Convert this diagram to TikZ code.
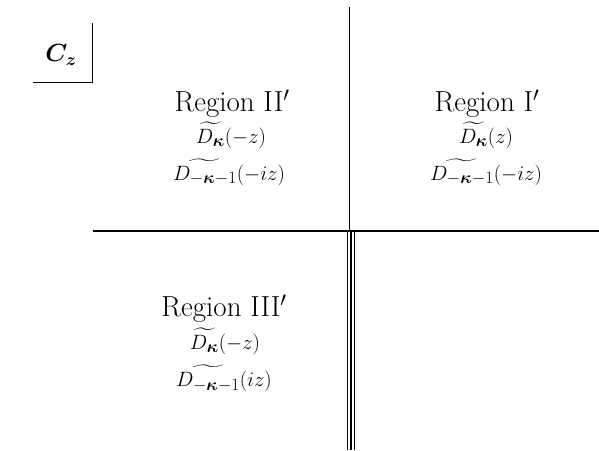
\documentclass[tikz,border=0pt]{standalone}
\usepackage{amsmath}
\DeclareMathSizes{20}{20}{16}{12}
\begin{document}
\begin{tikzpicture}[x=1pt,y=-1pt,
  axis/.style={line width=1.4pt},
  cut/.style={line width=1.2pt},
  boxline/.style={line width=0.9pt},
  regionlabel/.style={font=\fontsize{29}{34}\selectfont, inner sep=0pt, anchor=base},
  fn/.style={font=\fontsize{20}{24}\selectfont, inner sep=0pt, anchor=base}]
\useasboundingbox (0,0) rectangle (599,450);
% axes
\coordinate (top) at (349.5,7);
\coordinate (origin) at (349.5,231);
\coordinate (left) at (93,231);
\coordinate (right) at (599,231);
\draw[axis] (top) -- (origin);
\draw[axis] (left) -- (right);
% triple cut
\coordinate (c1a) at (347.3,231); \coordinate (c1b) at (347.3,450);
\coordinate (c2a) at (351,231);   \coordinate (c2b) at (351,450);
\coordinate (c3a) at (354.7,231); \coordinate (c3b) at (354.7,450);
\draw[cut] (c1a) -- (c1b);
\draw[cut] (c2a) -- (c2b);
\draw[cut] (c3a) -- (c3b);
% C_z box
\coordinate (bxtop) at (92,23);
\coordinate (bxcorner) at (92,82);
\coordinate (bxleft) at (33,82);
\draw[boxline] (bxtop) -- (bxcorner) -- (bxleft);
\node[font=\fontsize{26}{30}\selectfont, inner sep=0pt] (cz) at (61,55) {$\boldsymbol{C_z}$};
% Region II'
\node[regionlabel] (r2) at (232,111) {Region II$'$};
\node[fn] (r2a) at (231,143) {$\widetilde{D_{\boldsymbol\kappa}}(-z)$};
\node[fn] (r2b) at (229,180) {$\widetilde{D_{-\boldsymbol\kappa-1}}(-iz)$};
% Region I'
\node[regionlabel] (r1) at (487,111) {Region I$'$};
\node[fn] (r1a) at (486,143) {$\widetilde{D_{\boldsymbol\kappa}}(z)$};
\node[fn] (r1b) at (486,180) {$\widetilde{D_{-\boldsymbol\kappa-1}}(-iz)$};
% Region III'
\node[regionlabel] (r3) at (224,316) {Region III$'$};
\node[fn] (r3a) at (225,349) {$\widetilde{D_{\boldsymbol\kappa}}(-z)$};
\node[fn] (r3b) at (224,386) {$\widetilde{D_{-\boldsymbol\kappa-1}}(iz)$};
\end{tikzpicture}
\end{document}
